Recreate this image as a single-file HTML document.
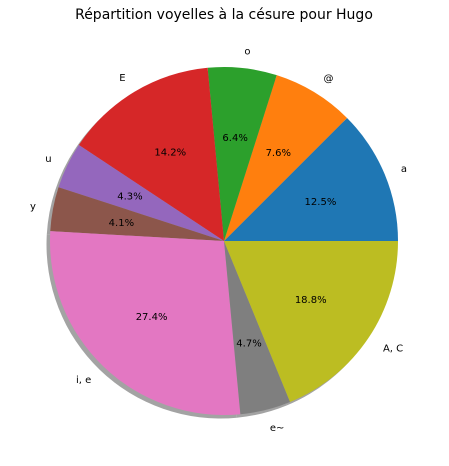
<!DOCTYPE html>
<html><head><meta charset="utf-8"><style>
html,body{margin:0;padding:0;background:#fff;}
svg{display:block;font-family:"DejaVu Sans","Liberation Sans",sans-serif;}
</style></head><body>
<svg id="chart" width="449" height="466" viewBox="0 0 449 466" xmlns="http://www.w3.org/2000/svg">
<rect width="449" height="466" fill="#fff"/>
<text x="224" y="19" text-anchor="middle" font-size="14" fill="#000">Répartition voyelles à la césure pour Hugo</text>
<g id="shadow-layer"></g>
<g id="wedges"></g>
<g id="labels"></g>
</svg>
<script>
const categories = ["a", "@", "o", "E", "u", "y", "i, e", "e~", "A, C"];
const values = [12.5, 7.6, 6.4, 14.2, 4.3, 4.1, 27.4, 4.7, 18.8];
const colors = ["#1f77b4", "#ff7f0e", "#2ca02c", "#d62728", "#9467bd", "#8c564b", "#e377c2", "#7f7f7f", "#bcbd22"];

const NS = "http://www.w3.org/2000/svg";
const cx = 224, cy = 241, R = 174;
const total = values.reduce((a, b) => a + b, 0);
const shadowG = document.getElementById('shadow-layer');
const wedgeG = document.getElementById('wedges');
const labelG = document.getElementById('labels');

function pt(deg, r, ox, oy) {
  const a = deg * Math.PI / 180;
  return [cx + (ox || 0) + r * Math.cos(a), cy + (oy || 0) - r * Math.sin(a)];
}
function wedgePath(a0, a1, ox, oy) {
  const p0 = pt(a0, R, ox, oy), p1 = pt(a1, R, ox, oy);
  const large = (a1 - a0) > 180 ? 1 : 0;
  return `M${cx + (ox || 0)},${cy + (oy || 0)} L${p0[0]},${p0[1]} A${R},${R} 0 ${large} 0 ${p1[0]},${p1[1]} Z`;
}

let start = 0;
values.forEach((v, i) => {
  const sweep = v / total * 360;
  const a0 = start, a1 = start + sweep, mid = (a0 + a1) / 2;
  const sh = document.createElementNS(NS, 'path');
  sh.setAttribute('d', wedgePath(a0, a1, -3.5, 3.5));
  sh.setAttribute('fill', '#8c8c8c');
  sh.setAttribute('opacity', '0.8');
  
  
  shadowG.appendChild(sh);

  const w = document.createElementNS(NS, 'path');
  w.setAttribute('d', wedgePath(a0, a1));
  w.setAttribute('fill', colors[i]);
  
  
  wedgeG.appendChild(w);

  const lp = pt(mid, R * 1.1);
  const t = document.createElementNS(NS, 'text');
  t.setAttribute('x', lp[0]);
  t.setAttribute('y', lp[1] + 4);
  t.setAttribute('font-size', '10');
  t.setAttribute('text-anchor', Math.cos(mid * Math.PI / 180) < 0 ? 'end' : 'start');
  t.textContent = categories[i];
  
  
  labelG.appendChild(t);

  const pp = pt(mid, R * 0.6);
  const p = document.createElementNS(NS, 'text');
  p.setAttribute('x', pp[0]);
  p.setAttribute('y', pp[1] + 4);
  p.setAttribute('font-size', '10');
  p.setAttribute('text-anchor', 'middle');
  p.textContent = v.toFixed(1) + '%';
  
  
  labelG.appendChild(p);

  start = a1;
});
</script>
</body></html>
